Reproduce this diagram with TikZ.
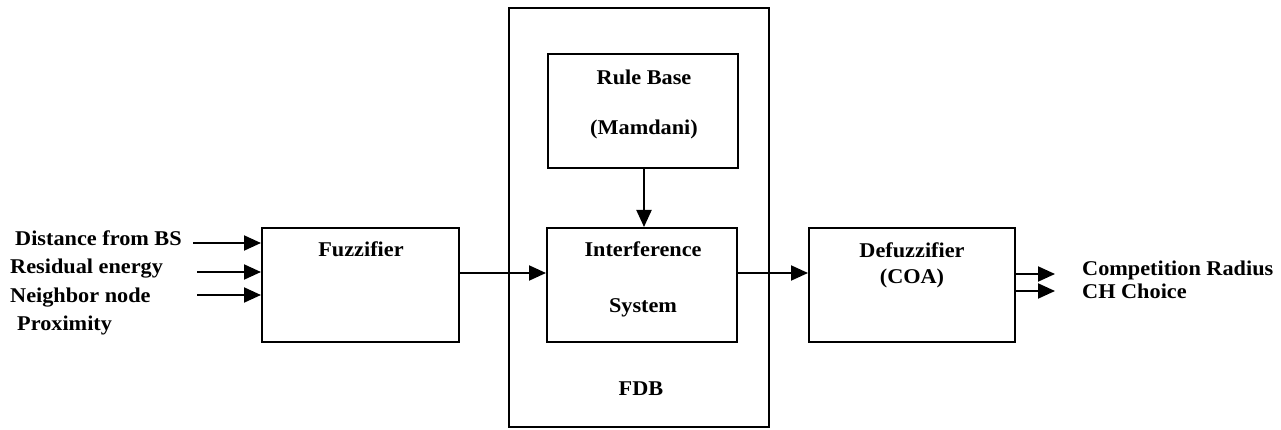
\documentclass[tikz,border=0pt]{standalone}
\usepackage{fontspec}
\setmainfont{Liberation Serif}[FakeStretch=1.06]
\usetikzlibrary{arrows.meta,positioning}

\begin{document}
\begin{tikzpicture}[x=1pt,y=-1pt,
    box/.style={draw,line width=2pt,inner sep=0pt},
    lbl/.style={font=\fontsize{21}{25}\selectfont\bfseries,inner sep=0pt},
    arr/.style={line width=2pt,-{Triangle[length=17pt,width=15pt]}}]
  \useasboundingbox (0,0) rectangle (1281,430);
  % blocks
  \node[box,minimum width=260pt,minimum height=419pt] (fdb) at (639,217.5) {};
  \node[box,minimum width=190pt,minimum height=114pt] (rule) at (643,111) {};
  \node[box,minimum width=190pt,minimum height=114pt] (inter) at (642,285) {};
  \node[box,minimum width=197pt,minimum height=114pt] (fuzz) at (360.5,285) {};
  \node[box,minimum width=206pt,minimum height=114pt] (defuzz) at (912,285) {};
  % block texts
  \node[lbl,anchor=base] (fuzzt) at (361,257) {Fuzzifier};
  \node[lbl,anchor=base] (rulet) at (644,85) {Rule Base};
  \node[lbl,anchor=base] (rulet2) at (644,135) {(Mamdani)};
  \node[lbl,anchor=base] (intert) at (643,257) {Interference};
  \node[lbl,anchor=base] (intert2) at (643,312) {System};
  \node[lbl,anchor=base] (defuzzt) at (912,258) {Defuzzifier};
  \node[lbl,anchor=base] (defuzzt2) at (912,283) {(COA)};
  \node[lbl,anchor=base] (fdbt) at (641,395) {FDB};
  % inputs
  \node[lbl,anchor=base west] (dist) at (15,246) {Distance from BS};
  \node[lbl,anchor=base west] (res) at (10,273) {Residual energy};
  \node[lbl,anchor=base west] (neigh) at (10,302) {Neighbor node};
  \node[lbl,anchor=base west] (prox) at (17,330) {Proximity};
  \coordinate (in1) at (193,243);
  \coordinate (in2) at (197,272);
  \coordinate (in3) at (197,295);
  \draw[arr] (in1) -- (in1 -| fuzz.west);
  \draw[arr] (in2) -- (in2 -| fuzz.west);
  \draw[arr] (in3) -- (in3 -| fuzz.west);
  % flow through the FDB
  \draw[arr] ([yshift=12pt]fuzz.east) -- ([yshift=12pt]inter.west);
  \draw[arr] ([xshift=1pt]rule.south) -- ([xshift=1pt]rule.south |- inter.north);
  \draw[arr] ([yshift=12pt]inter.east) -- ([yshift=12pt]defuzz.west);
  % outputs
  \coordinate (out1) at (1055,274);
  \coordinate (out2) at (1055,291);
  \draw[arr] (out1 -| defuzz.east) -- (out1);
  \draw[arr] (out2 -| defuzz.east) -- (out2);
  \node[lbl,anchor=base west] (radius) at (1082,275) {Competition Radius};
  \node[lbl,anchor=base west] (choice) at (1082,298) {CH Choice};
\end{tikzpicture}
\end{document}
